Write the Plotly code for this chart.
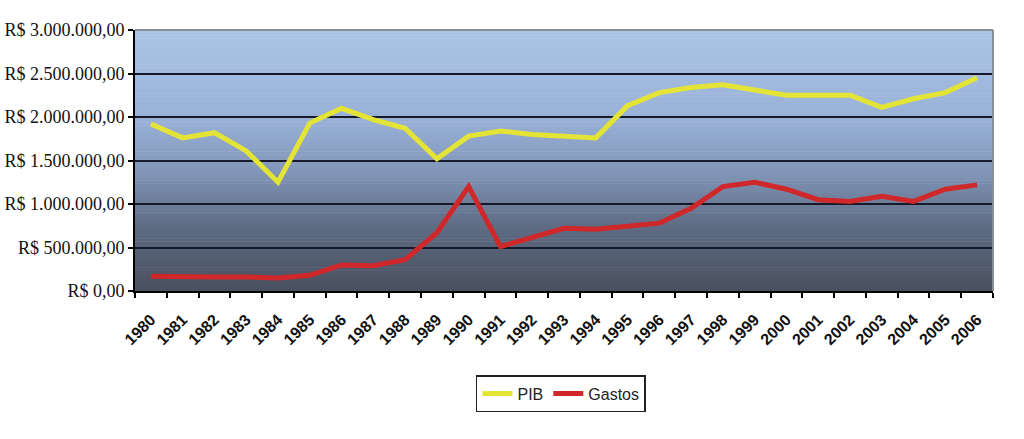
import plotly.graph_objects as go

years = [str(y) for y in range(1980, 2007)]
pib = [1920000, 1760000, 1820000, 1610000, 1250000, 1930000, 2100000, 1970000, 1870000,
       1520000, 1780000, 1840000, 1800000, 1780000, 1760000, 2130000, 2280000, 2340000,
       2370000, 2310000, 2250000, 2250000, 2250000, 2110000, 2210000, 2280000, 2450000]
gastos = [170000, 160000, 160000, 160000, 150000, 180000, 300000, 290000, 360000,
          670000, 1200000, 510000, 620000, 720000, 710000, 740000, 780000, 950000,
          1200000, 1250000, 1170000, 1050000, 1030000, 1090000, 1030000, 1170000, 1220000]
ytickvals = [0, 500000, 1000000, 1500000, 2000000, 2500000, 3000000]
yticktext = ["R$ 0,00", "R$ 500.000,00", "R$ 1.000.000,00", "R$ 1.500.000,00",
             "R$ 2.000.000,00", "R$ 2.500.000,00", "R$ 3.000.000,00"]

fig = go.Figure()
fig.add_trace(go.Scatter(x=years, y=pib, name="PIB", mode="lines",
                         line=dict(color="#e4e436", width=5)))
fig.add_trace(go.Scatter(x=years, y=gastos, name="Gastos", mode="lines",
                         line=dict(color="#d0282a", width=5)))

# vertical gradient background
stops = [(0.0, (0x48, 0x4f, 0x5d)), (0.25, (0x5f, 0x6c, 0x84)), (0.45, (0x80, 0x94, 0xb6)),
         (0.65, (0x98, 0xb0, 0xd6)), (1.0, (0xac, 0xc5, 0xe6))]
def col(t):
    for (t0, c0), (t1, c1) in zip(stops[:-1], stops[1:]):
        if t0 <= t <= t1:
            f = (t - t0) / (t1 - t0)
            return "rgb(%d,%d,%d)" % tuple(round(a + (b - a) * f) for a, b in zip(c0, c1))
    return "rgb(%d,%d,%d)" % stops[-1][1]
n = 90
shapes = []
for i in range(n):
    y0 = i / n
    y1 = (i + 1) / n
    shapes.append(dict(type="rect", xref="paper", yref="paper", x0=0, x1=1, y0=y0, y1=y1 + 0.002,
                       fillcolor=col((y0 + y1) / 2), line=dict(width=0), layer="below"))
shapes.append(dict(type="line", xref="paper", yref="paper", x0=0, x1=1, y0=1, y1=1,
                   line=dict(color="#8a909a", width=2), layer="above"))
shapes.append(dict(type="line", xref="paper", yref="paper", x0=1, x1=1, y0=0, y1=1,
                   line=dict(color="#8a909a", width=2), layer="above"))

fig.update_layout(
    width=1024, height=439,
    margin=dict(l=135, r=31, t=30, b=148),
    paper_bgcolor="white", plot_bgcolor="rgba(0,0,0,0)",
    shapes=shapes,
    showlegend=True,
    legend=dict(orientation="h", x=0.4965, xanchor="center", y=-0.322, yanchor="top",
                bordercolor="#222", borderwidth=1.5, bgcolor="white",
                font=dict(family="Liberation Sans", size=16, color="#222"),
                itemwidth=30, tracegroupgap=0),
    xaxis=dict(type="category", range=[-0.5, 26.5], tickson="boundaries", ticks="outside", ticklen=5,
               tickcolor="black", tickwidth=1.5, showline=True, linecolor="black", linewidth=2,
               showgrid=False, tickangle=-45, ticklabelstandoff=11, automargin=False,
               tickfont=dict(family="Liberation Sans", size=16, color="#111", weight="bold")),
    yaxis=dict(range=[0, 3000000], tickvals=ytickvals, ticktext=yticktext,
               ticks="outside", ticklen=5, tickcolor="black", tickwidth=1.5,
               showline=True, linecolor="black", linewidth=2, automargin=False,
               showgrid=True, gridcolor="#15192a", gridwidth=2, zeroline=False,
               tickfont=dict(family="Liberation Serif", size=18, color="#111")),
)

fig.write_html("out.html")
